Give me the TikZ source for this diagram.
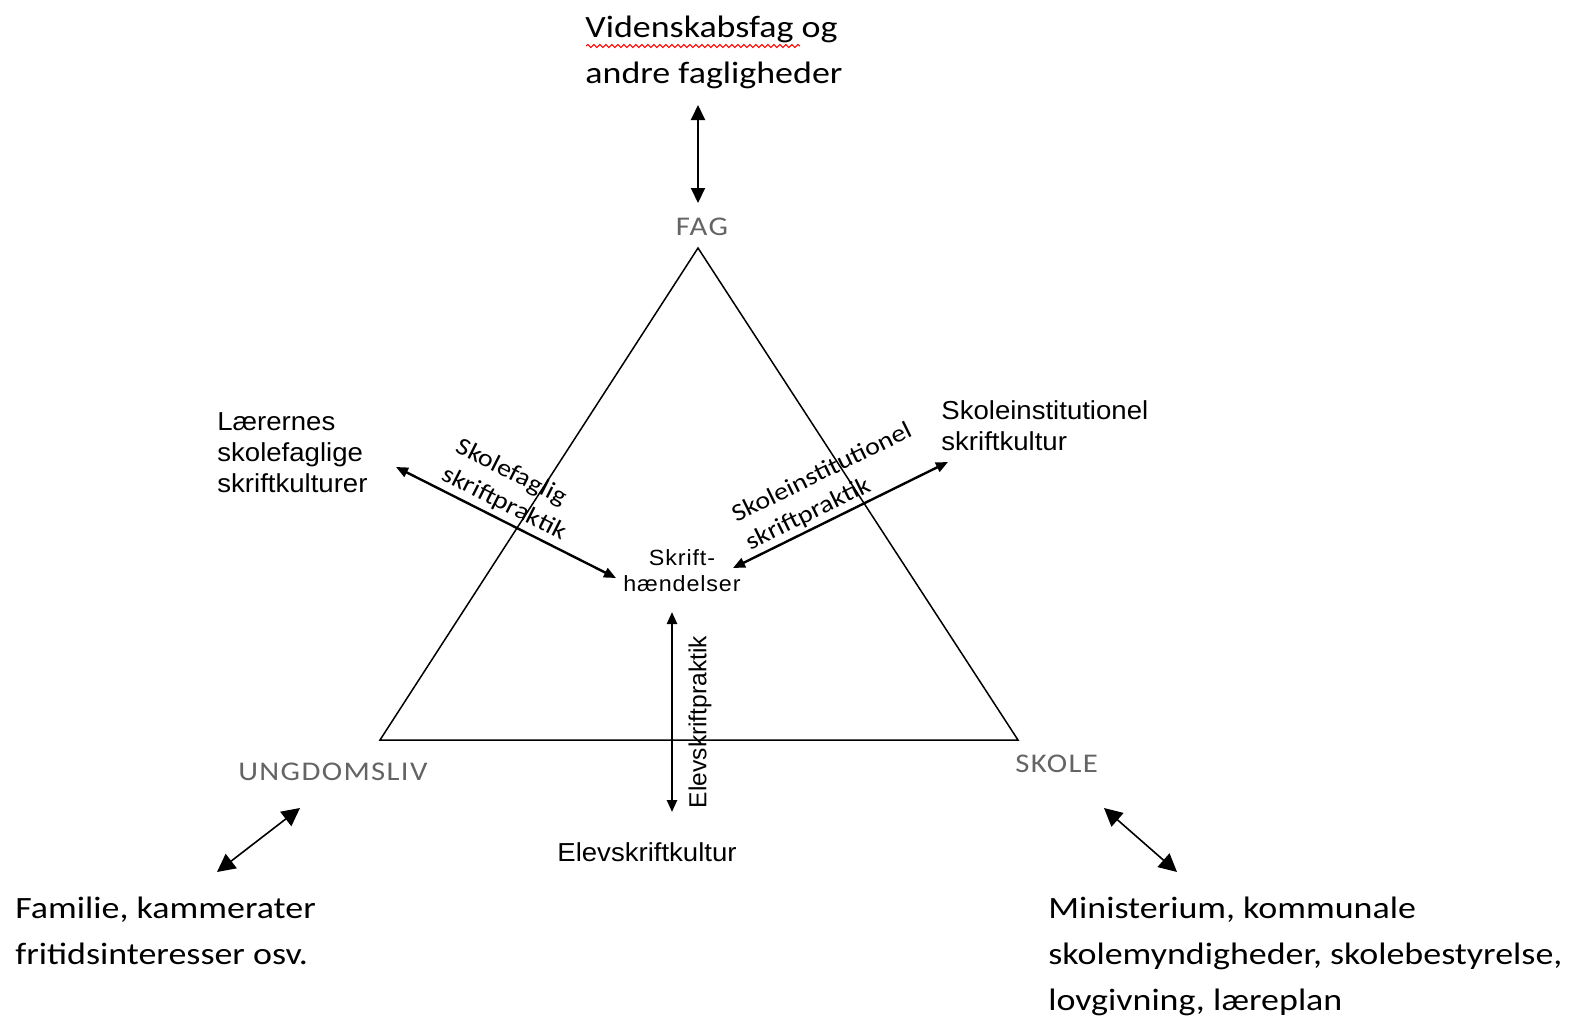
\documentclass[tikz,border=0pt]{standalone}
\usepackage{fontspec}
\newfontfamily\cfont{Carlito}[FakeStretch=1.16]
\newfontfamily\rfont{Carlito}[FakeStretch=1.14]
\newfontfamily\gfont{Carlito}[FakeStretch=1.14, LetterSpace=5]
\newfontfamily\afont{Liberation Sans}[FakeStretch=1.06]
\newfontfamily\hfont{Liberation Sans}[FakeStretch=1.06, LetterSpace=4]
\newfontfamily\vfont{Liberation Sans}
\usetikzlibrary{arrows.meta,decorations.pathmorphing}
\definecolor{labgray}{RGB}{100,100,100}
\begin{document}
\begin{tikzpicture}[x=0.5pt,y=-0.5pt,
  bigtext/.style={inner sep=0pt, align=left, font=\cfont\fontsize{15.5}{23}\selectfont, anchor=north west},
  cornerlabel/.style={inner sep=0pt, font=\gfont\fontsize{13.5}{16}\selectfont, text=labgray, anchor=base west},
  smalltext/.style={inner sep=0pt, align=left, font=\afont\fontsize{13}{15.5}\selectfont, anchor=north west},
  rottext/.style={inner sep=0pt, align=left, font=\rfont\fontsize{12.3}{15.5}\selectfont},
  toparrow/.style={{Triangle[length=7.5pt,width=7pt]}-{Triangle[length=7.5pt,width=7pt]}, line width=1pt},
  innerarrow/.style={{Triangle[length=6pt,width=5pt]}-{Triangle[length=6pt,width=5pt]}, line width=1.2pt},
  cornerarrow/.style={{Triangle[length=9pt,width=9pt]}-{Triangle[length=9pt,width=9pt]}, line width=0.8pt},
  tri/.style={line width=0.75pt, line join=miter}
]
\useasboundingbox (0,0) rectangle (1569,1017);

% triangle
\coordinate (A) at (698,248);
\coordinate (B) at (380,740);
\coordinate (C) at (1018,740);
\draw[tri] (A) -- (B) -- (C) -- cycle;

% labels
\node[bigtext] (vid) at (585,16) {Videnskabsfag og\\andre fagligheder};
\draw[red, line width=0.5pt, decorate, decoration={snake, amplitude=0.8pt, segment length=3pt}] (586,46) -- (800,46);

\node[cornerlabel, anchor=base] (fag) at (702,235) {FAG};
\node[cornerlabel] (ung) at (238,780) {UNGDOMSLIV};
\node[cornerlabel] (sko) at (1015,772) {SKOLE};

\node[smalltext] (laer) at (217,412) {Lærernes\\skolefaglige\\skriftkulturer};
\node[smalltext] (skinst) at (941,400) {Skoleinstitutionel\\skriftkultur};
\node[inner sep=0pt, align=center, font=\hfont\fontsize{11}{13}\selectfont] (skh) at (682,571) {Skrift-\\hændelser};
\node[inner sep=0pt, font=\afont\fontsize{13}{15}\selectfont, anchor=base] (elev) at (647,861) {Elevskriftkultur};

\node[rottext, rotate=-26.8] (skf) at (511,490) {Skolefaglig\\skriftpraktik};
\node[rottext, rotate=26.2] (ski) at (829,487) {Skoleinstitutionel\\skriftpraktik};
\node[inner sep=0pt, rotate=90, font=\vfont\fontsize{12.3}{14}\selectfont] (esp) at (700,722) {Elevskriftpraktik};

\node[bigtext] (fam) at (15,897) {Familie, kammerater\\fritidsinteresser osv.};
\node[bigtext] (mini) at (1048,897) {Ministerium, kommunale\\skolemyndigheder, skolebestyrelse,\\lovgivning, læreplan};

% arrows
\coordinate (t1) at (698,105);
\coordinate (t2) at (698,203);
\draw[toparrow] (t1) -- (t2);

\coordinate (l1) at (396,467);
\coordinate (l2) at (616,578);
\draw[innerarrow] (l1) -- (l2);

\coordinate (r1) at (948,462);
\coordinate (r2) at (733,568);
\draw[innerarrow] (r1) -- (r2);

\coordinate (v1) at (672,612);
\coordinate (v2) at (672,812);
\draw[innerarrow] (v1) -- (v2);

\coordinate (bl1) at (300,808);
\coordinate (bl2) at (217,872);
\draw[cornerarrow] (bl1) -- (bl2);

\coordinate (br1) at (1104,808);
\coordinate (br2) at (1177,872);
\draw[cornerarrow] (br1) -- (br2);
\end{tikzpicture}
\end{document}
